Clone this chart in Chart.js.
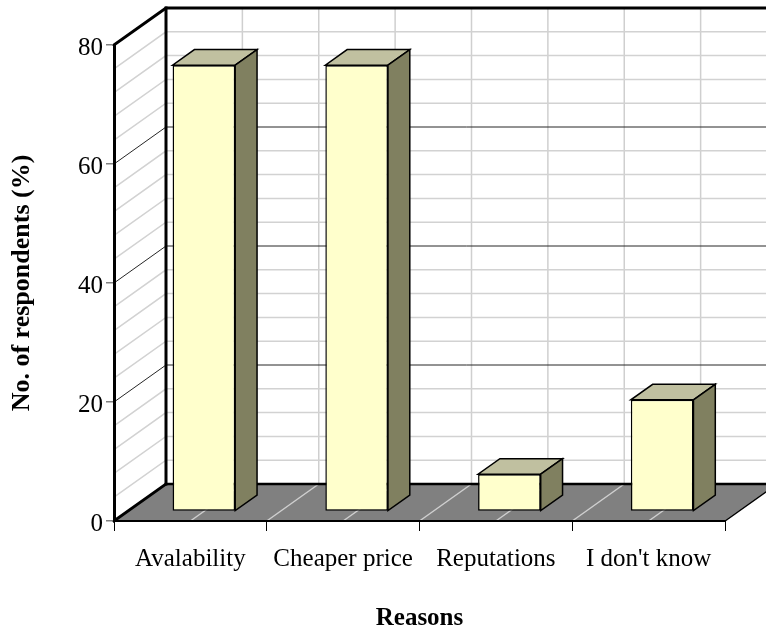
<!DOCTYPE html>
<html>
<head>
<meta charset="utf-8">
<script src="https://cdn.jsdelivr.net/npm/chart.js@4/dist/chart.umd.min.js"></script>
<style>
  html, body { margin: 0; padding: 0; background: #fff; }
</style>
</head>
<body>
<canvas id="chart" width="766" height="632"></canvas>
<script>
// Survey data
const reasons = ['Avalability', 'Cheaper price', 'Reputations', "I don't know"];
const respondents = [75, 75, 6.25, 18.75];
const yTickValues = [0, 20, 40, 60, 80];
const yMinorStep = 4;

// 3-D look: the back wall sits DEPTH px behind the front plane,
// and each bar fills the slice of that depth between BAR_FRONT and BAR_BACK.
const DEPTH = { x: 52, y: -37 };
const BAR_FRONT = 0.26;
const BAR_BACK = 0.68;

const SERIF = '"Liberation Serif", "Times New Roman", serif';

function poly(ctx, pts, fill) {
  ctx.beginPath();
  ctx.moveTo(pts[0][0], pts[0][1]);
  for (let i = 1; i < pts.length; i++) ctx.lineTo(pts[i][0], pts[i][1]);
  ctx.closePath();
  ctx.fillStyle = fill;
  ctx.fill();
  ctx.stroke();
}

function line(ctx, pts) {
  ctx.beginPath();
  ctx.moveTo(pts[0][0], pts[0][1]);
  for (let i = 1; i < pts.length; i++) ctx.lineTo(pts[i][0], pts[i][1]);
  ctx.stroke();
}

// Side wall, back wall and floor, drawn beneath the axes and bars
const walls = {
  id: 'walls',
  beforeDraw(chart) {
    const { ctx, chartArea: a, scales: { x, y } } = chart;
    const dx = DEPTH.x, dy = DEPTH.y;
    const L = a.left, R = a.right, T = a.top, B = a.bottom;
    ctx.save();

    // floor
    ctx.fillStyle = '#808080';
    ctx.beginPath();
    ctx.moveTo(L, B); ctx.lineTo(R, B); ctx.lineTo(R + dx, B + dy); ctx.lineTo(L + dx, B + dy);
    ctx.closePath();
    ctx.fill();

    // vertical grid on the back wall and matching lines across the floor
    ctx.strokeStyle = '#cfcfcf';
    ctx.lineWidth = 1.5;
    for (let i = 0; i < reasons.length; i++) {
      [i, i + 0.5].forEach(v => {
        const px = x.getPixelForValue(v);
        line(ctx, [[px + dx, T + dy], [px + dx, B + dy]]);
        line(ctx, [[px, B], [px + dx, B + dy]]);
      });
    }

    // horizontal grid: minor levels first, then major levels on top
    const steps = Math.round((y.max - y.min) / yMinorStep);
    const levels = [];
    for (let k = 1; k < steps; k++) levels.push(y.min + k * yMinorStep);
    levels.filter(v => !yTickValues.includes(v)).forEach(v => {
      const py = y.getPixelForValue(v);
      ctx.strokeStyle = '#d2d2d2';
      ctx.lineWidth = 1.5;
      line(ctx, [[L, py], [L + dx, py + dy], [R + dx, py + dy]]);
    });
    levels.filter(v => yTickValues.includes(v)).forEach(v => {
      const py = y.getPixelForValue(v);
      ctx.strokeStyle = '#262626';
      ctx.lineWidth = 1;
      line(ctx, [[L, py], [L + dx, py + dy], [R + dx, py + dy]]);
    });

    // wall and floor edges
    ctx.strokeStyle = '#000';
    ctx.lineCap = 'square';
    ctx.lineWidth = 3;
    line(ctx, [[L, T], [L + dx, T + dy], [R + dx, T + dy]]);
    line(ctx, [[L + dx, T + dy], [L + dx, B + dy]]);
    line(ctx, [[L, B], [L + dx, B + dy]]);
    ctx.lineWidth = 2.5;
    line(ctx, [[L + dx, B + dy], [R + dx, B + dy]]);
    ctx.lineWidth = 1.5;
    line(ctx, [[R, B], [R + dx, B + dy]]);

    ctx.restore();
  }
};

// Bars: front faces are drawn by Chart.js on a plane pushed back into the box,
// then the top and right faces are added around each bar element.
const bars3d = {
  id: 'bars3d',
  beforeDatasetDraw(chart) {
    chart.ctx.save();
    chart.ctx.translate(DEPTH.x * BAR_FRONT, DEPTH.y * BAR_FRONT);
  },
  afterDatasetDraw(chart, args) {
    const ctx = chart.ctx;
    const ddx = DEPTH.x * (BAR_BACK - BAR_FRONT);
    const ddy = DEPTH.y * (BAR_BACK - BAR_FRONT);
    ctx.strokeStyle = '#000';
    ctx.lineWidth = 1.5;
    ctx.lineJoin = 'miter';
    args.meta.data.forEach(bar => {
      const { x, y, base, width } = bar.getProps(['x', 'y', 'base', 'width'], true);
      const l = x - width / 2, r = x + width / 2;
      poly(ctx, [[l, y], [r, y], [r + ddx, y + ddy], [l + ddx, y + ddy]], '#c0c0a0');
      poly(ctx, [[r, y], [r + ddx, y + ddy], [r + ddx, base + ddy], [r, base]], '#808060');
    });
    ctx.restore();
  }
};

new Chart(document.getElementById('chart'), {
  type: 'bar',
  data: {
    labels: reasons,
    datasets: [{
      data: respondents,
      backgroundColor: '#ffffcc',
      borderColor: '#000',
      borderWidth: 1.5,
      borderSkipped: false,
      barPercentage: 0.41,
      categoryPercentage: 1
    }]
  },
  options: {
    responsive: false,
    animation: false,
    devicePixelRatio: 1,
    layout: { padding: { top: 45, right: 41, left: 0, bottom: 0 } },
    plugins: {
      legend: { display: false },
      tooltip: { enabled: false }
    },
    scales: {
      x: {
        afterFit: s => { s.height = 111; },
        grid: { drawOnChartArea: false, drawTicks: true, tickLength: 10, tickColor: '#000', offset: true },
        border: { display: true, color: '#000', width: 2 },
        ticks: { color: '#000', font: { family: SERIF, size: 25 }, padding: 13, maxRotation: 0, autoSkip: false },
        title: {
          display: true, text: 'Reasons', color: '#000',
          font: { family: SERIF, size: 25, weight: 'bold', lineHeight: 1.05 },
          padding: { top: 0, bottom: 0 }
        }
      },
      y: {
        min: 0,
        max: 80,
        afterFit: s => { s.width = 114; },
        afterBuildTicks: s => { s.ticks = yTickValues.map(v => ({ value: v })); },
        grid: { drawOnChartArea: false, drawTicks: true, tickLength: 8, tickColor: '#808080', lineWidth: 1.5 },
        border: { display: true, color: '#000', width: 3 },
        ticks: { color: '#000', font: { family: SERIF, size: 25 }, padding: 3, labelOffset: 3 },
        title: {
          display: true, text: 'No. of respondents (%)', color: '#000',
          font: { family: SERIF, size: 26, weight: 'bold' },
          padding: { top: 7, bottom: 0 }
        }
      }
    }
  },
  plugins: [walls, bars3d]
});
</script>
</body>
</html>
